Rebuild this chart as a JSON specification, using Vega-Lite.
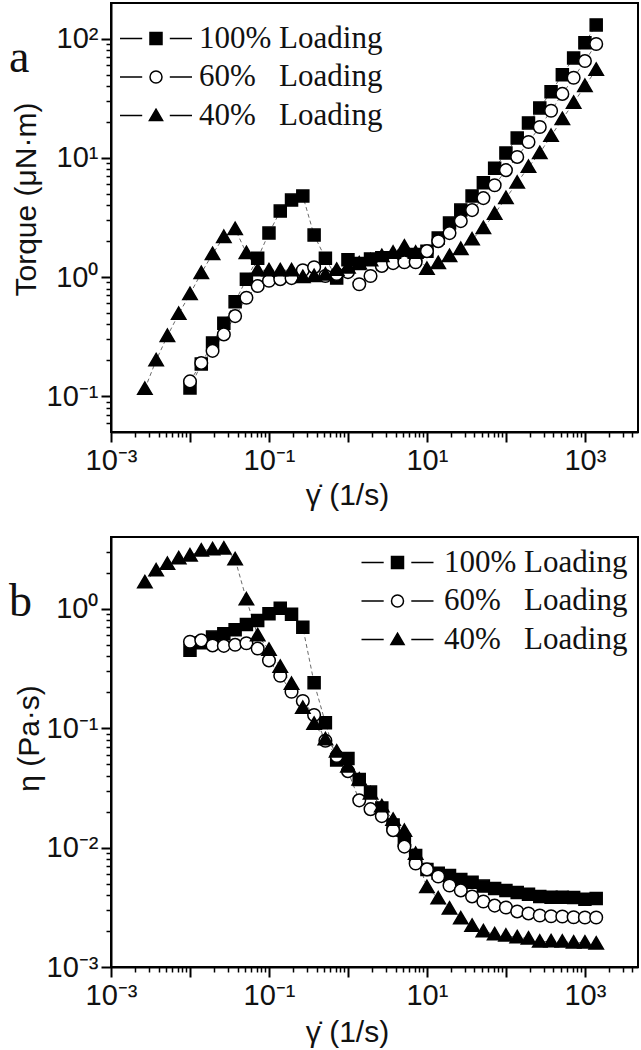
{
  "$schema": "https://vega.github.io/schema/vega-lite/v6.json",
  "background": "white",
  "padding": {"left": 8, "top": 2, "right": 0, "bottom": 0},
  "bounds": "flush",
  "spacing": 105,
  "datasets": {
    "torque": [
      {"s":"100%","x":0.01,"y":0.117},{"s":"100%","x":0.013895,"y":0.186},{"s":"100%","x":0.019307,"y":0.28},{"s":"100%","x":0.026827,"y":0.41},{"s":"100%","x":0.037276,"y":0.62},{"s":"100%","x":0.051795,"y":0.96},{"s":"100%","x":0.071969,"y":1.44},{"s":"100%","x":0.1,"y":2.34},{"s":"100%","x":0.13895,"y":3.58},{"s":"100%","x":0.19307,"y":4.43},{"s":"100%","x":0.26827,"y":4.79},{"s":"100%","x":0.37276,"y":2.25},{"s":"100%","x":0.51795,"y":1.44},{"s":"100%","x":0.71969,"y":0.98},{"s":"100%","x":1,"y":1.4},{"s":"100%","x":1.3895,"y":1.3},{"s":"100%","x":1.9307,"y":1.42},{"s":"100%","x":2.6827,"y":1.45},{"s":"100%","x":3.7276,"y":1.45},{"s":"100%","x":5.1795,"y":1.5},{"s":"100%","x":7.1969,"y":1.55},{"s":"100%","x":10,"y":1.65},{"s":"100%","x":13.895,"y":2.13},{"s":"100%","x":19.307,"y":2.84},{"s":"100%","x":26.827,"y":3.65},{"s":"100%","x":37.276,"y":4.79},{"s":"100%","x":51.795,"y":6.2},{"s":"100%","x":71.969,"y":8.2},{"s":"100%","x":100,"y":11.0},{"s":"100%","x":138.95,"y":14.7},{"s":"100%","x":193.07,"y":19.7},{"s":"100%","x":268.27,"y":26.3},{"s":"100%","x":372.76,"y":35.9},{"s":"100%","x":517.95,"y":49.9},{"s":"100%","x":719.69,"y":69.1},{"s":"100%","x":1000,"y":92.6},{"s":"100%","x":1389.5,"y":131},
      {"s":"60%","x":0.01,"y":0.133},{"s":"60%","x":0.013895,"y":0.19},{"s":"60%","x":0.019307,"y":0.24},{"s":"60%","x":0.026827,"y":0.33},{"s":"60%","x":0.037276,"y":0.47},{"s":"60%","x":0.051795,"y":0.67},{"s":"60%","x":0.071969,"y":0.84},{"s":"60%","x":0.1,"y":0.93},{"s":"60%","x":0.13895,"y":0.96},{"s":"60%","x":0.19307,"y":0.98},{"s":"60%","x":0.26827,"y":1.14},{"s":"60%","x":0.37276,"y":1.21},{"s":"60%","x":0.51795,"y":1.02},{"s":"60%","x":0.71969,"y":1.06},{"s":"60%","x":1,"y":1.1},{"s":"60%","x":1.3895,"y":0.87},{"s":"60%","x":1.9307,"y":1.02},{"s":"60%","x":2.6827,"y":1.24},{"s":"60%","x":3.7276,"y":1.31},{"s":"60%","x":5.1795,"y":1.33},{"s":"60%","x":7.1969,"y":1.33},{"s":"60%","x":10,"y":1.65},{"s":"60%","x":13.895,"y":2.0},{"s":"60%","x":19.307,"y":2.34},{"s":"60%","x":26.827,"y":2.95},{"s":"60%","x":37.276,"y":3.65},{"s":"60%","x":51.795,"y":4.6},{"s":"60%","x":71.969,"y":5.9},{"s":"60%","x":100,"y":7.9},{"s":"60%","x":138.95,"y":10.2},{"s":"60%","x":193.07,"y":13.6},{"s":"60%","x":268.27,"y":18.2},{"s":"60%","x":372.76,"y":24.9},{"s":"60%","x":517.95,"y":34.5},{"s":"60%","x":719.69,"y":47.1},{"s":"60%","x":1000,"y":65.1},{"s":"60%","x":1389.5,"y":90.6},
      {"s":"40%","x":0.002683,"y":0.115},{"s":"40%","x":0.003728,"y":0.2},{"s":"40%","x":0.005179,"y":0.32},{"s":"40%","x":0.007197,"y":0.49},{"s":"40%","x":0.01,"y":0.72},{"s":"40%","x":0.013895,"y":1.08},{"s":"40%","x":0.019307,"y":1.56},{"s":"40%","x":0.026827,"y":2.17},{"s":"40%","x":0.037276,"y":2.53},{"s":"40%","x":0.051795,"y":1.59},{"s":"40%","x":0.071969,"y":1.14},{"s":"40%","x":0.1,"y":1.14},{"s":"40%","x":0.13895,"y":1.14},{"s":"40%","x":0.19307,"y":1.14},{"s":"40%","x":0.26827,"y":1.0},{"s":"40%","x":0.37276,"y":1.02},{"s":"40%","x":0.51795,"y":1.05},{"s":"40%","x":0.71969,"y":1.15},{"s":"40%","x":1,"y":1.2},{"s":"40%","x":1.3895,"y":1.3},{"s":"40%","x":1.9307,"y":1.38},{"s":"40%","x":2.6827,"y":1.5},{"s":"40%","x":3.7276,"y":1.6},{"s":"40%","x":5.1795,"y":1.8},{"s":"40%","x":7.1969,"y":1.6},{"s":"40%","x":10,"y":1.17},{"s":"40%","x":13.895,"y":1.31},{"s":"40%","x":19.307,"y":1.5},{"s":"40%","x":26.827,"y":1.72},{"s":"40%","x":37.276,"y":2.07},{"s":"40%","x":51.795,"y":2.58},{"s":"40%","x":71.969,"y":3.4},{"s":"40%","x":100,"y":4.6},{"s":"40%","x":138.95,"y":6.2},{"s":"40%","x":193.07,"y":8.4},{"s":"40%","x":268.27,"y":11.0},{"s":"40%","x":372.76,"y":15.3},{"s":"40%","x":517.95,"y":21.2},{"s":"40%","x":719.69,"y":29.0},{"s":"40%","x":1000,"y":40.2},{"s":"40%","x":1389.5,"y":55}
    ],
    "visc": [
      {"s":"100%","x":0.01,"y":0.45},{"s":"100%","x":0.013895,"y":0.52},{"s":"100%","x":0.019307,"y":0.58},{"s":"100%","x":0.026827,"y":0.62},{"s":"100%","x":0.037276,"y":0.67},{"s":"100%","x":0.051795,"y":0.74},{"s":"100%","x":0.071969,"y":0.8},{"s":"100%","x":0.1,"y":0.91},{"s":"100%","x":0.13895,"y":1.01},{"s":"100%","x":0.19307,"y":0.9},{"s":"100%","x":0.26827,"y":0.7},{"s":"100%","x":0.37276,"y":0.24},{"s":"100%","x":0.51795,"y":0.111},{"s":"100%","x":0.71969,"y":0.0542},{"s":"100%","x":1,"y":0.0557},{"s":"100%","x":1.3895,"y":0.0372},{"s":"100%","x":1.9307,"y":0.0292},{"s":"100%","x":2.6827,"y":0.0215},{"s":"100%","x":3.7276,"y":0.0155},{"s":"100%","x":5.1795,"y":0.01153},{"s":"100%","x":7.1969,"y":0.00857},{"s":"100%","x":10,"y":0.00657},{"s":"100%","x":13.895,"y":0.0061},{"s":"100%","x":19.307,"y":0.00585},{"s":"100%","x":26.827,"y":0.00541},{"s":"100%","x":37.276,"y":0.00512},{"s":"100%","x":51.795,"y":0.00476},{"s":"100%","x":71.969,"y":0.00454},{"s":"100%","x":100,"y":0.00437},{"s":"100%","x":138.95,"y":0.00421},{"s":"100%","x":193.07,"y":0.00406},{"s":"100%","x":268.27,"y":0.0039},{"s":"100%","x":372.76,"y":0.00384},{"s":"100%","x":517.95,"y":0.00384},{"s":"100%","x":719.69,"y":0.00383},{"s":"100%","x":1000,"y":0.00369},{"s":"100%","x":1389.5,"y":0.00375},
      {"s":"60%","x":0.01,"y":0.53},{"s":"60%","x":0.013895,"y":0.545},{"s":"60%","x":0.019307,"y":0.494},{"s":"60%","x":0.026827,"y":0.49},{"s":"60%","x":0.037276,"y":0.5},{"s":"60%","x":0.051795,"y":0.515},{"s":"60%","x":0.071969,"y":0.465},{"s":"60%","x":0.1,"y":0.37},{"s":"60%","x":0.13895,"y":0.275},{"s":"60%","x":0.19307,"y":0.202},{"s":"60%","x":0.26827,"y":0.169},{"s":"60%","x":0.37276,"y":0.129},{"s":"60%","x":0.51795,"y":0.0785},{"s":"60%","x":0.71969,"y":0.0586},{"s":"60%","x":1,"y":0.0437},{"s":"60%","x":1.3895,"y":0.0249},{"s":"60%","x":1.9307,"y":0.021},{"s":"60%","x":2.6827,"y":0.01837},{"s":"60%","x":3.7276,"y":0.014},{"s":"60%","x":5.1795,"y":0.0102},{"s":"60%","x":7.1969,"y":0.00736},{"s":"60%","x":10,"y":0.00657},{"s":"60%","x":13.895,"y":0.00573},{"s":"60%","x":19.307,"y":0.00482},{"s":"60%","x":26.827,"y":0.00438},{"s":"60%","x":37.276,"y":0.0039},{"s":"60%","x":51.795,"y":0.00354},{"s":"60%","x":71.969,"y":0.00327},{"s":"60%","x":100,"y":0.00315},{"s":"60%","x":138.95,"y":0.00292},{"s":"60%","x":193.07,"y":0.00281},{"s":"60%","x":268.27,"y":0.0027},{"s":"60%","x":372.76,"y":0.00266},{"s":"60%","x":517.95,"y":0.00265},{"s":"60%","x":719.69,"y":0.00261},{"s":"60%","x":1000,"y":0.0026},{"s":"60%","x":1389.5,"y":0.0026},
      {"s":"40%","x":0.002683,"y":1.67},{"s":"40%","x":0.003728,"y":2.1},{"s":"40%","x":0.005179,"y":2.38},{"s":"40%","x":0.007197,"y":2.65},{"s":"40%","x":0.01,"y":2.8},{"s":"40%","x":0.013895,"y":3.08},{"s":"40%","x":0.019307,"y":3.15},{"s":"40%","x":0.026827,"y":3.2},{"s":"40%","x":0.037276,"y":2.6},{"s":"40%","x":0.051795,"y":1.2},{"s":"40%","x":0.071969,"y":0.6},{"s":"40%","x":0.1,"y":0.454},{"s":"40%","x":0.13895,"y":0.327},{"s":"40%","x":0.19307,"y":0.235},{"s":"40%","x":0.26827,"y":0.148},{"s":"40%","x":0.37276,"y":0.109},{"s":"40%","x":0.51795,"y":0.0807},{"s":"40%","x":0.71969,"y":0.0637},{"s":"40%","x":1,"y":0.0478},{"s":"40%","x":1.3895,"y":0.0372},{"s":"40%","x":1.9307,"y":0.0284},{"s":"40%","x":2.6827,"y":0.0222},{"s":"40%","x":3.7276,"y":0.0171},{"s":"40%","x":5.1795,"y":0.0138},{"s":"40%","x":7.1969,"y":0.00885},{"s":"40%","x":10,"y":0.00466},{"s":"40%","x":13.895,"y":0.00375},{"s":"40%","x":19.307,"y":0.00309},{"s":"40%","x":26.827,"y":0.00255},{"s":"40%","x":37.276,"y":0.00221},{"s":"40%","x":51.795,"y":0.00199},{"s":"40%","x":71.969,"y":0.00188},{"s":"40%","x":100,"y":0.00183},{"s":"40%","x":138.95,"y":0.00177},{"s":"40%","x":193.07,"y":0.00173},{"s":"40%","x":268.27,"y":0.00163},{"s":"40%","x":372.76,"y":0.00164},{"s":"40%","x":517.95,"y":0.00163},{"s":"40%","x":719.69,"y":0.0016},{"s":"40%","x":1000,"y":0.0016},{"s":"40%","x":1389.5,"y":0.00157}
    ]
  },
  "vconcat": [
    {
      "width": 527,
      "height": 429,
      "title": {"text": "a", "orient": "none", "anchor": "start", "frame": "group", "offset": 0, "dx": -102, "dy": 69, "align": "left", "baseline": "alphabetic", "font": "Liberation Serif", "fontSize": 46, "fontWeight": "normal", "color": "#111"},
      "data": {"name": "torque"},
      "encoding": {
        "x": {"field": "x", "type": "quantitative",
          "scale": {"type": "log", "domain": [0.001, 4700], "nice": false},
          "axis": {"title": "γ̇ (1/s)", "titleX": 236, "titleY": 63, "titleBaseline": "middle", "titleAlign": "center",
            "values": [0.001,0.002,0.003,0.004,0.005,0.006,0.007,0.008,0.009,0.01,0.02,0.03,0.04,0.05,0.06,0.07,0.08,0.09,0.1,0.2,0.3,0.4,0.5,0.6,0.7,0.8,0.9,1,2,3,4,5,6,7,8,9,10,20,30,40,50,60,70,80,90,100,200,300,400,500,600,700,800,900,1000,2000,3000,4000],
            "labelExpr": "datum.value == 0.001 ? '10⁻³' : datum.value == 0.1 ? '10⁻¹' : datum.value == 10 ? '10¹' : datum.value == 1000 ? '10³' : ''",
            "tickSize": {"condition": {"test": "abs(log(datum.value)/LN10 - round(log(datum.value)/LN10)) < 0.001", "value": 10}, "value": 5},
            "tickWidth": {"condition": {"test": "abs(log(datum.value)/LN10 - round(log(datum.value)/LN10)) < 0.001", "value": 2}, "value": 1.5},
            "labelFlush": false, "labelOverlap": false, "labelPadding": 4, "labelBaseline": "top"}},
        "y": {"field": "y", "type": "quantitative",
          "scale": {"type": "log", "domain": [0.05, 200], "nice": false},
          "axis": {"title": "Torque (μN·m)", "titleX": -85, "titleY": 196, "titleBaseline": "middle", "titleAlign": "center", "titleAngle": -90,
            "values": [0.06,0.07,0.08,0.09,0.1,0.2,0.3,0.4,0.5,0.6,0.7,0.8,0.9,1,2,3,4,5,6,7,8,9,10,20,30,40,50,60,70,80,90,100],
            "labelExpr": "datum.value == 0.1 ? '10⁻¹' : datum.value == 1 ? '10⁰' : datum.value == 10 ? '10¹' : datum.value == 100 ? '10²' : ''",
            "tickSize": {"condition": {"test": "abs(log(datum.value)/LN10 - round(log(datum.value)/LN10)) < 0.001", "value": 10}, "value": 5},
            "tickWidth": {"condition": {"test": "abs(log(datum.value)/LN10 - round(log(datum.value)/LN10)) < 0.001", "value": 2}, "value": 1.5},
            "labelFlush": false, "labelOverlap": false, "labelPadding": 3, "labelBaseline": "middle"}}
      },
      "layer": [
        {"mark": {"type": "line", "color": "#444", "strokeWidth": 0.8, "strokeDash": [4, 3]},
         "encoding": {"detail": {"field": "s", "type": "nominal"}}},
        {"mark": {"type": "point", "stroke": "black", "strokeWidth": 1.5, "size": 144, "opacity": 1, "fillOpacity": 1},
         "encoding": {
           "shape": {"condition": [{"test": "datum.s == '100%'", "value": "M-1,-1H1V1H-1Z"}, {"test": "datum.s == '60%'", "value": "M1.05,0A1.05,1.05,0,1,1,-1.05,0A1.05,1.05,0,1,1,1.05,0Z"}], "value": "M0,-1.15L1.2,0.9L-1.2,0.9Z"},
           "fill": {"condition": {"test": "datum.s == '60%'", "value": "white"}, "value": "black"}
         }},
        {"transform": [{"filter": "false"}],
         "mark": {"type": "point", "strokeWidth": 1.5, "opacity": 1, "fillOpacity": 1},
         "encoding": {
           "shape": {"field": "s", "type": "nominal",
             "scale": {"domain": ["100%", "60%", "40%"], "range": ["M-6,0H-2.3M2.3,0H6M-1,-1H1V1H-1Z", "M-6,0H-2.3M2.3,0H6M1,0A1,1,0,1,1,-1,0A1,1,0,1,1,1,0Z", "M-6,0H-2.3M2.3,0H6M0,-1.05L1.1,0.85L-1.1,0.85Z"]},
             "legend": {"title": null, "orient": "none", "legendX": 8.5, "legendY": 20, "symbolSize": 144, "symbolOffset": 21, "labelOffset": 27.5, "labelFont": "Liberation Serif", "labelFontSize": 31, "labelColor": "#111", "rowPadding": 6.5, "padding": 0, "symbolStrokeWidth": 1.5, "labelLimit": 400,
               "labelExpr": "datum.label == '100%' ? '100% Loading' : datum.label + '\u00a0\u00a0\u00a0Loading'"}},
           "fill": {"field": "s", "type": "nominal", "scale": {"domain": ["100%", "60%", "40%"], "range": ["black", "white", "black"]},
             "legend": {"title": null, "orient": "none", "legendX": 8.5, "legendY": 20, "symbolSize": 144, "symbolOffset": 21, "labelOffset": 27.5, "labelFont": "Liberation Serif", "labelFontSize": 31, "labelColor": "#111", "rowPadding": 6.5, "padding": 0, "symbolStrokeWidth": 1.5, "labelLimit": 400,
               "labelExpr": "datum.label == '100%' ? '100% Loading' : datum.label + '\u00a0\u00a0\u00a0Loading'"}},
           "stroke": {"field": "s", "type": "nominal", "scale": {"domain": ["100%", "60%", "40%"], "range": ["black", "black", "black"]},
             "legend": {"title": null, "orient": "none", "legendX": 8.5, "legendY": 20, "symbolSize": 144, "symbolOffset": 21, "labelOffset": 27.5, "labelFont": "Liberation Serif", "labelFontSize": 31, "labelColor": "#111", "rowPadding": 6.5, "padding": 0, "symbolStrokeWidth": 1.5, "labelLimit": 400,
               "labelExpr": "datum.label == '100%' ? '100% Loading' : datum.label + '\u00a0\u00a0\u00a0Loading'"}}
         }}
      ]
    },
    {
      "width": 527,
      "height": 430,
      "title": {"text": "b", "orient": "none", "anchor": "start", "frame": "group", "offset": 0, "dx": -102, "dy": 79, "align": "left", "baseline": "alphabetic", "font": "Liberation Serif", "fontSize": 46, "fontWeight": "normal", "color": "#111"},
      "data": {"name": "visc"},
      "encoding": {
        "x": {"field": "x", "type": "quantitative",
          "scale": {"type": "log", "domain": [0.001, 4700], "nice": false},
          "axis": {"title": "γ̇ (1/s)", "titleX": 236, "titleY": 65, "titleBaseline": "middle", "titleAlign": "center",
            "values": [0.001,0.002,0.003,0.004,0.005,0.006,0.007,0.008,0.009,0.01,0.02,0.03,0.04,0.05,0.06,0.07,0.08,0.09,0.1,0.2,0.3,0.4,0.5,0.6,0.7,0.8,0.9,1,2,3,4,5,6,7,8,9,10,20,30,40,50,60,70,80,90,100,200,300,400,500,600,700,800,900,1000,2000,3000,4000],
            "labelExpr": "datum.value == 0.001 ? '10⁻³' : datum.value == 0.1 ? '10⁻¹' : datum.value == 10 ? '10¹' : datum.value == 1000 ? '10³' : ''",
            "tickSize": {"condition": {"test": "abs(log(datum.value)/LN10 - round(log(datum.value)/LN10)) < 0.001", "value": 10}, "value": 5},
            "tickWidth": {"condition": {"test": "abs(log(datum.value)/LN10 - round(log(datum.value)/LN10)) < 0.001", "value": 2}, "value": 1.5},
            "labelFlush": false, "labelOverlap": false, "labelPadding": 4, "labelBaseline": "top"}},
        "y": {"field": "y", "type": "quantitative",
          "scale": {"type": "log", "domain": [0.001, 4], "nice": false},
          "axis": {"title": "η (Pa·s)", "titleX": -82, "titleY": 201, "titleBaseline": "middle", "titleAlign": "center", "titleAngle": -90,
            "values": [0.001,0.002,0.003,0.004,0.005,0.006,0.007,0.008,0.009,0.01,0.02,0.03,0.04,0.05,0.06,0.07,0.08,0.09,0.1,0.2,0.3,0.4,0.5,0.6,0.7,0.8,0.9,1,2,3],
            "labelExpr": "datum.value == 0.001 ? '10⁻³' : datum.value == 0.01 ? '10⁻²' : datum.value == 0.1 ? '10⁻¹' : datum.value == 1 ? '10⁰' : ''",
            "tickSize": {"condition": {"test": "abs(log(datum.value)/LN10 - round(log(datum.value)/LN10)) < 0.001", "value": 10}, "value": 5},
            "tickWidth": {"condition": {"test": "abs(log(datum.value)/LN10 - round(log(datum.value)/LN10)) < 0.001", "value": 2}, "value": 1.5},
            "labelFlush": false, "labelOverlap": false, "labelPadding": 3, "labelBaseline": "middle"}}
      },
      "layer": [
        {"mark": {"type": "line", "color": "#444", "strokeWidth": 0.8, "strokeDash": [4, 3]},
         "encoding": {"detail": {"field": "s", "type": "nominal"}}},
        {"mark": {"type": "point", "stroke": "black", "strokeWidth": 1.5, "size": 144, "opacity": 1, "fillOpacity": 1},
         "encoding": {
           "shape": {"condition": [{"test": "datum.s == '100%'", "value": "M-1,-1H1V1H-1Z"}, {"test": "datum.s == '60%'", "value": "M1.05,0A1.05,1.05,0,1,1,-1.05,0A1.05,1.05,0,1,1,1.05,0Z"}], "value": "M0,-1.15L1.2,0.9L-1.2,0.9Z"},
           "fill": {"condition": {"test": "datum.s == '60%'", "value": "white"}, "value": "black"}
         }},
        {"transform": [{"filter": "false"}],
         "mark": {"type": "point", "strokeWidth": 1.5, "opacity": 1, "fillOpacity": 1},
         "encoding": {
           "shape": {"field": "s", "type": "nominal",
             "scale": {"domain": ["100%", "60%", "40%"], "range": ["M-6,0H-2.3M2.3,0H6M-1,-1H1V1H-1Z", "M-6,0H-2.3M2.3,0H6M1,0A1,1,0,1,1,-1,0A1,1,0,1,1,1,0Z", "M-6,0H-2.3M2.3,0H6M0,-1.05L1.1,0.85L-1.1,0.85Z"]},
             "legend": {"title": null, "orient": "top-right", "offset": 10, "symbolSize": 144, "symbolOffset": 21, "labelOffset": 31, "labelFont": "Liberation Serif", "labelFontSize": 31, "labelColor": "#111", "rowPadding": 6.5, "padding": 0, "symbolStrokeWidth": 1.5, "labelLimit": 400,
               "labelExpr": "datum.label == '100%' ? '100% Loading' : datum.label + '\u00a0\u00a0\u00a0Loading'"}},
           "fill": {"field": "s", "type": "nominal", "scale": {"domain": ["100%", "60%", "40%"], "range": ["black", "white", "black"]},
             "legend": {"title": null, "orient": "top-right", "offset": 10, "symbolSize": 144, "symbolOffset": 21, "labelOffset": 31, "labelFont": "Liberation Serif", "labelFontSize": 31, "labelColor": "#111", "rowPadding": 6.5, "padding": 0, "symbolStrokeWidth": 1.5, "labelLimit": 400,
               "labelExpr": "datum.label == '100%' ? '100% Loading' : datum.label + '\u00a0\u00a0\u00a0Loading'"}},
           "stroke": {"field": "s", "type": "nominal", "scale": {"domain": ["100%", "60%", "40%"], "range": ["black", "black", "black"]},
             "legend": {"title": null, "orient": "top-right", "offset": 10, "symbolSize": 144, "symbolOffset": 21, "labelOffset": 31, "labelFont": "Liberation Serif", "labelFontSize": 31, "labelColor": "#111", "rowPadding": 6.5, "padding": 0, "symbolStrokeWidth": 1.5, "labelLimit": 400,
               "labelExpr": "datum.label == '100%' ? '100% Loading' : datum.label + '\u00a0\u00a0\u00a0Loading'"}}
         }}
      ]
    }
  ],
  "resolve": {"scale": {"shape": "independent", "fill": "independent", "stroke": "independent"}, "legend": {"shape": "independent", "fill": "independent", "stroke": "independent"}},
  "config": {
    "font": "Liberation Sans",
    "view": {"stroke": "black", "strokeWidth": 2},
    "axis": {"grid": false, "domainColor": "black", "domainWidth": 2, "tickColor": "black", "labelFont": "Liberation Sans", "labelFontSize": 29, "labelColor": "#111", "titleFont": "Liberation Sans", "titleFontSize": 30, "titleFontWeight": "normal", "titleColor": "#111"}
  }
}
